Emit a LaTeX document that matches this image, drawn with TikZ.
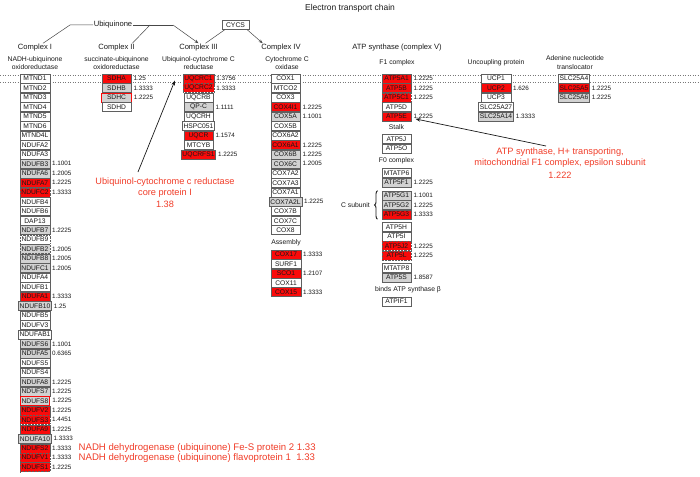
\documentclass[tikz,border=0pt]{standalone}
\usepackage{fontspec}
\setmainfont{Liberation Sans}
\usetikzlibrary{arrows.meta,decorations.pathreplacing,calc}
\definecolor{upred}{RGB}{250,10,10}
\definecolor{midgray}{RGB}{210,210,210}
\definecolor{boxline}{RGB}{95,95,95}
\definecolor{annot}{RGB}{240,60,40}
\definecolor{memb}{RGB}{120,120,120}
\definecolor{ink}{RGB}{25,25,25}
\newcommand\fgene{\fontsize{6.7}{7}\selectfont}
\newcommand\fval{\fontsize{6.3}{7}\selectfont}
\newcommand\flab{\fontsize{7.6}{9}\selectfont}
\newcommand\fsub{\fontsize{6.8}{8}\selectfont}
\newcommand\ftitle{\fontsize{8.5}{10}\selectfont}
\newcommand\fannot{\fontsize{9.2}{11}\selectfont}
\newcommand\fnadh{\fontsize{9.6}{11}\selectfont}
\def\novalue{-}
\newcommand\genecolumn[4]{%
  \foreach \gname/\gsty/\gval [count=\gidx from 0] in {#4}{%
    \node[\gsty] (#1\gidx) at (#2,#3+9.48*\gidx) {\gname};
    \ifx\gval\novalue\else
      \node[val] (#1v\gidx) at ([xshift=2pt]#1\gidx.east) {\gval};
    \fi
  }}
\begin{document}
\begin{tikzpicture}[x=1pt,y=-1pt,
  gene/.style={draw=boxline, line width=0.45pt, fill=white, text=ink, font=\fgene,
    minimum width=29.5pt, minimum height=9pt, inner xsep=1.2pt, inner ysep=0pt},
  w/.style={gene},
  wd/.style={gene, densely dotted},
  g/.style={gene, fill=midgray},
  gd/.style={gene, fill=midgray, densely dotted},
  gr/.style={gene, fill=midgray, draw=upred, line width=0.8pt},
  r/.style={gene, fill=upred},
  rd/.style={gene, fill=upred, densely dotted},
  val/.style={font=\fval, text=ink, anchor=west, inner sep=0pt},
  lab/.style={font=\flab, text=ink, inner sep=0.5pt},
  sublab/.style={font=\fsub, text=ink, inner sep=0.5pt},
  annotlab/.style={font=\fannot, text=annot, inner sep=0.5pt},
  conn/.style={draw=ink!80, line width=0.5pt},
  pointer/.style={draw=ink, line width=0.7pt, -{Stealth[length=5pt,width=3.6pt]}},
  membrane/.style={draw=memb, line width=0.45pt, dash pattern=on 1.4pt off 1.1pt}
]
\useasboundingbox (0,0) rectangle (700,476);

% membrane
\draw[membrane] (0,75) -- (700,75);
\draw[membrane] (0,82.3) -- (700,82.3);

% title
\node[font=\ftitle, text=ink] (title) at (350,8) {Electron transport chain};

% column labels
\node[lab] (cI) at (35,47.5) {Complex I};
\node[sublab] (cIs1) at (35,59.5) {NADH-ubiquinone};
\node[sublab] (cIs2) at (35,67.5) {oxidoreductase};
\node[lab] (cII) at (116.5,47.5) {Complex II};
\node[sublab] (cIIs1) at (116.5,59.5) {succinate-ubiquinone};
\node[sublab] (cIIs2) at (116.5,67.5) {oxidoreductase};
\node[lab] (cIII) at (198.5,47.5) {Complex III};
\node[sublab] (cIIIs1) at (198.5,59.5) {Ubiquinol-cytochrome C};
\node[sublab] (cIIIs2) at (198.5,67.5) {reductase};
\node[lab] (cIV) at (281,47.5) {Complex IV};
\node[sublab] (cIVs1) at (287,59.5) {Cytochrome C};
\node[sublab] (cIVs2) at (287,67.5) {oxidase};
\node[lab] (cV) at (397,47.5) {ATP synthase (complex V)};
\node[sublab] (f1) at (397,62.5) {F1 complex};
\node[sublab] (ucp) at (496,62.5) {Uncoupling protein};
\node[sublab] (ant1) at (575,58.5) {Adenine nucleotide};
\node[sublab] (ant2) at (575,67.5) {translocator};

% ubiquinone and cytochrome c
\node[lab] (ubq) at (113,25) {Ubiquinone};
\node[gene, font=\fsub, minimum width=27pt] (cycs) at (235.5,25) {CYCS};
\coordinate (ubqL) at (70,25);
\coordinate (ubqJ1) at (150,25);
\coordinate (ubqJ2) at (173,25);
\draw[conn] (ubq.west) -- (ubqL) -- ([xshift=8pt]cI.north);
\draw[conn] (ubq.east) -- (ubqJ2);
\draw[conn] (ubqJ1) -- ([xshift=-3pt]cII.north east);
\draw[conn, -{Stealth[length=4pt,width=3pt]}] (ubqJ2) -- (cIII.north);
\draw[conn] ([xshift=3pt]cycs.south west) -- ([xshift=7pt]cIII.north);
\draw[conn, -{Stealth[length=4pt,width=3pt]}] ([xshift=-2pt]cycs.south east) -- ([xshift=2pt]cIV.north west);

% Complex I
\genecolumn{cIg}{35}{78.5}{MTND1/w/-,MTND2/w/-,MTND3/w/-,MTND4/w/-,MTND5/w/-,MTND6/w/-,
  MTND4L/w/-,NDUFA2/w/-,NDUFA3/w/-,NDUFB3/g/1.1001,NDUFA6/g/1.2005,NDUFA7/r/1.2225,
  NDUFC2/rd/1.3333,NDUFB4/w/-,NDUFB6/w/-,DAP13/w/-,NDUFB7/g/1.2225,NDUFB9/wd/-,
  NDUFB2/gd/1.2005,NDUFB8/g/1.2005,NDUFC1/g/1.2005,NDUFA4/w/-,NDUFB1/w/-,NDUFA1/r/1.3333,
  NDUFB10/g/1.25,NDUFB5/w/-,NDUFV3/w/-,NDUFAB1/w/-,NDUFS6/g/1.1001,NDUFA5/g/0.6365,
  NDUFS5/w/-,NDUFS4/w/-,NDUFA8/g/1.2225,NDUFS7/g/1.2225,NDUFS8/gr/1.2225,NDUFV2/r/1.2225,
  NDUFS3/rd/1.4451,NDUFA9/r/1.2225,NDUFA10/g/1.3333,NDUFS2/r/1.3333,NDUFV1/rd/1.3333,
  NDUFS1/rd/1.2225}

% Complex II
\genecolumn{cIIg}{116.5}{78.5}{SDHA/r/1.25,SDHB/g/1.3333,SDHC/gr/1.2225,SDHD/w/-}

% Complex III
\genecolumn{cIIIg}{198.5}{78.5}{UQCRC1/r/1.3756,UQCRC2/rd/1.3333,UQCRB/w/-,QP-C/g/1.1111,
  UQCRH/w/-,HSPC051/w/-,UQCR/r/1.1574,MTCYB/w/-,UQCRFS1/r/1.2225}

% Complex IV
\genecolumn{cIVg}{285.5}{78.5}{COX1/w/-,MTCO2/w/-,COX3/w/-,COX4I1/r/1.2225,COX5A/g/1.1001,
  COX5B/w/-,COX6A2/w/-,COX6A1/r/1.2225,COX6B/g/1.2225,COX6C/g/1.2005,COX7A2/w/-,
  COX7A3/w/-,COX7A1/w/-,COX7A2L/g/1.2225,COX7B/w/-,COX7C/w/-,COX8/w/-}
\node[sublab] (asm) at (286,242.3) {Assembly};
\genecolumn{asmg}{286}{254.3}{COX17/r/1.3333,SURF1/w/-,SCO1/r/1.2107,COX11/w/-,COX15/r/1.3333}

% ATP synthase
\genecolumn{atpa}{396.5}{78.5}{ATP5A1/r/1.2225,ATP5B/r/1.2225,ATP5C1/rd/1.2225,ATP5D/w/-,ATP5E/r/1.2225}
\node[sublab] (stalk) at (396.5,127) {Stalk};
\genecolumn{atpb}{396.5}{139}{ATP5J/w/-,ATP5O/w/-}
\node[sublab] (f0) at (396.5,160.5) {F0 complex};
\genecolumn{atpc}{396.5}{173}{MTATP6/w/-,ATP5F1/g/1.2225}
\genecolumn{atpd}{396.5}{195.5}{ATP5G1/g/1.1001,ATP5G2/g/1.2225,ATP5G3/r/1.3333}
\genecolumn{atpe}{396.5}{227}{ATP5H/w/-,ATP5I/w/-,ATP5J2/rd/1.2225,ATP5L/rd/1.2225}
\genecolumn{atpf}{396.5}{268}{MTATP8/w/-,ATP5S/g/1.8587}
\node[sublab] (binds) at (408,290) {binds ATP synthase β};
\genecolumn{atpg}{396.5}{301.5}{ATPIF1/w/-}
\node[sublab, anchor=east] (csub) at (370.5,205) {C subunit};
\draw[ink, line width=0.9pt, decorate, decoration={brace, amplitude=3pt}]
  ([xshift=-4pt]atpd2.south west) -- ([xshift=-4pt]atpd0.north west);

% Uncoupling protein
\genecolumn{ucpg}{496}{78.5}{UCP1/w/-,UCP2/r/1.626,UCP3/w/-,SLC25A27/w/-,SLC25A14/g/1.3333}

% Adenine nucleotide translocator
\genecolumn{antg}{574}{78.5}{SLC25A4/w/-,SLC25A5/r/1.2225,SLC25A6/g/1.2225}

% annotations
\node[annotlab] (uqa1) at (165,181.7) {Ubiquinol-cytochrome c reductase};
\node[annotlab] (uqa2) at (165,192.9) {core protein I};
\node[annotlab] (uqa3) at (165,204.1) {1.38};
\coordinate (uqtail) at (138,172);
\draw[pointer] (uqtail) -- ([xshift=-8pt,yshift=-2pt]cIIIg0.west);

\node[annotlab] (atpa1) at (560,152) {ATP synthase, H+ transporting,};
\node[annotlab] (atpa2) at (560,163.5) {mitochondrial F1 complex, epsilon subunit};
\node[annotlab] (atpa3) at (560,175) {1.222};
\coordinate (atptail) at (546,146);
\draw[pointer] (atptail) -- ([xshift=4pt,yshift=-2.5pt]atpa4.east);

\node[annotlab, font=\fnadh, anchor=west] (nadh1) at (78,448) {NADH dehydrogenase (ubiquinone) Fe-S protein 2 1.33};
\node[annotlab, font=\fnadh, anchor=west] (nadh2) at (78,458.5) {NADH dehydrogenase (ubiquinone) flavoprotein 1\ \ 1.33};
\end{tikzpicture}
\end{document}
